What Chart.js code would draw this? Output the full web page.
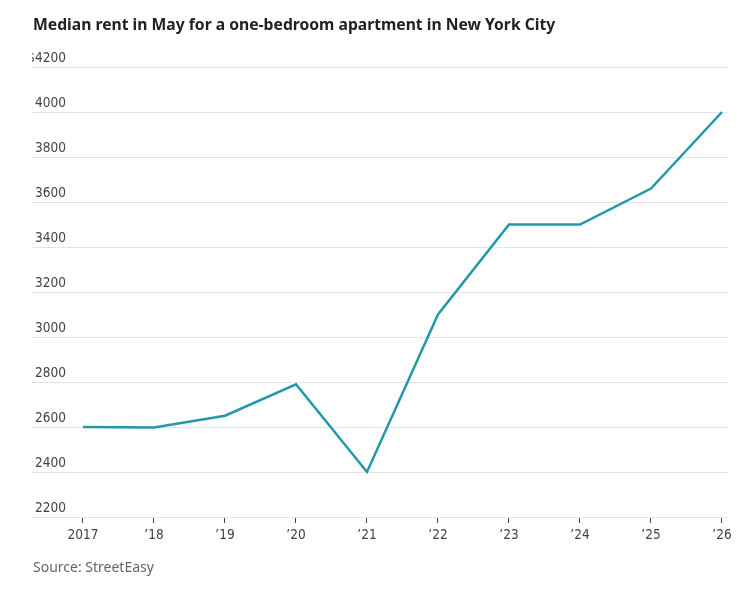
<!DOCTYPE html>
<html>
<head>
<meta charset="utf-8">
<script src="https://cdn.jsdelivr.net/npm/chart.js@4.4.1/dist/chart.umd.min.js"></script>
<style>
  body { margin: 0; background: #fff; }
  #wrap { position: relative; width: 756px; height: 589px; }
  #title { position: absolute; left: 33px; top: 13px; margin: 0; font: bold 15.7px "Noto Sans", "Open Sans", sans-serif; color: #222; }
  #source { position: absolute; left: 33px; top: 557px; font: 14px "Noto Sans", sans-serif; color: #666; }
  #box { position: absolute; left: 0; top: 0; width: 756px; height: 589px; }
</style>
</head>
<body>
<div id="wrap">
  <div id="box"><canvas id="chart"></canvas></div>
  <h1 id="title">Median rent in May for a one-bedroom apartment in New York City</h1>
  <div id="source">Source: StreetEasy</div>
</div>
<script>
// valores
const years = [2017, 2018, 2019, 2020, 2021, 2022, 2023, 2024, 2025, 2026];
const rent = [2600, 2598, 2650, 2790, 2400, 3100, 3500, 3500, 3660, 4000];
const yTicks = [2200, 2400, 2600, 2800, 3000, 3200, 3400, 3600, 3800, 4000, 4200];

const labelFont = { family: '"DejaVu Sans Condensed", "Noto Sans", sans-serif', size: 13.5 };

new Chart(document.getElementById('chart'), {
  type: 'line',
  data: {
    datasets: [{
      data: years.map((y, i) => ({ x: y, y: rent[i] })),
      borderColor: '#2298a9',
      borderWidth: 2.5,
      pointRadius: 0,
      tension: 0
    }]
  },
  options: {
    responsive: true,
    maintainAspectRatio: false,
    animation: false,
    layout: { padding: { left: 32, right: 28, top: 67, bottom: 0 } },
    plugins: { legend: { display: false }, tooltip: { enabled: false } },
    scales: {
      x: {
        type: 'linear',
        min: 2017 - 13 / 71,
        max: 2026 + 6 / 71,
        afterBuildTicks: s => { s.ticks = years.map(v => ({ value: v })); },
        afterFit: s => { s.height = 72; },
        border: { display: false },
        grid: { drawOnChartArea: false, drawTicks: true, tickLength: 6, tickColor: '#444', tickWidth: 1 },
        ticks: {
          padding: 4,
          color: '#444',
          font: labelFont,
          maxRotation: 0,
          autoSkip: false,
          callback: v => v === 2017 ? '2017' : '\u2019' + String(v).slice(2)
        }
      },
      y: {
        min: 2200,
        max: 4200,
        afterBuildTicks: s => { s.ticks = yTicks.map(v => ({ value: v })); },
        afterFit: s => { s.width = 38; },
        border: { display: false },
        grid: { color: '#e4e4e4', lineWidth: 1, drawTicks: true, tickLength: 38 },
        ticks: {
          padding: -34,
          labelOffset: -9,
          color: '#444',
          font: labelFont,
          callback: v => v === 4200 ? '$4200' : String(v)
        }
      }
    }
  }
});
</script>
</body>
</html>
